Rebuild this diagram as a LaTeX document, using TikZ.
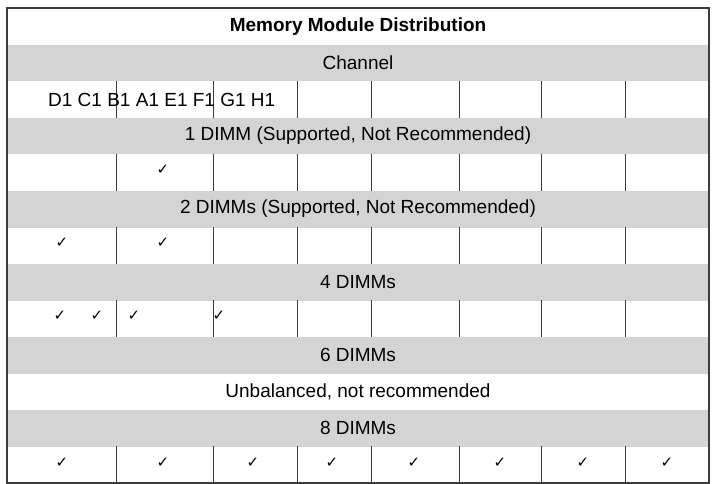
\documentclass[tikz,border=0pt]{standalone}
\usepackage{fontspec}
\setmainfont{Liberation Sans}
\newfontfamily\symfont{DejaVu Sans}
\newcommand{\tick}{{\symfont\fontsize{15}{16}\selectfont ✓}}
\tikzset{
	band/.style={fill={rgb,255:red,212;green,212;blue,212},draw=none},
	cell text/.style={font=\fontsize{19}{21}\selectfont,inner sep=0pt},
	rule/.style={draw={rgb,255:red,60;green,60;blue,60},line width=1pt}}

\begin{document}
\begin{tikzpicture}[x=1pt,y=1pt,yscale=-1,xscale=1]
	\useasboundingbox (0,0) rectangle (712,484);
	\fill[white] (0,0) rectangle (712,484);

	% grey bands
	\foreach \top in {45,118,191,264,337,410}
		\path[band] (7,\top) rectangle (709,\top+36.5);

	% column rules in the cell rows
	\foreach \top in {81,154,227,300,446}
		\foreach \xx in {116,213,297,371,459,541,625}
			\draw[rule] (\xx,\top) -- (\xx,\top+37);

	% frame
	\draw[rule,line width=1.2pt] (7,8) rectangle (709,483);

	% Text Node
	\node[cell text,font=\fontsize{19}{21}\selectfont\bfseries] (title) at (358,26.5) {Memory Module Distribution};
	\node[cell text] (channel) at (358,63) {Channel};
	\node[cell text,anchor=west] (slots) at (48,99.5) {D1 C1 B1 A1 E1 F1 G1 H1};
	\node[cell text] (one) at (358,136) {1 DIMM (Supported, Not Recommended)};
	\node[cell text] (two) at (358,209) {2 DIMMs (Supported, Not Recommended)};
	\node[cell text] (four) at (358,282) {4 DIMMs};
	\node[cell text] (six) at (358,355) {6 DIMMs};
	\node[cell text] (unbal) at (358,391.5) {Unbalanced, not recommended};
	\node[cell text] (eight) at (358,428) {8 DIMMs};

	% check marks
	\node (oneA) at (163,170) {\tick};
	\node (twoD) at (62,243) {\tick};
	\node (twoA) at (163,243) {\tick};
	\node (fourD) at (60,316) {\tick};
	\node (fourC) at (97,316) {\tick};
	\node (fourB) at (134,316) {\tick};
	\node (fourE) at (219,316) {\tick};
	\foreach \xx [count=\i] in {62,163,253,332,414,500,583,667}
		\node (eight\i) at (\xx,463) {\tick};
\end{tikzpicture}
\end{document}
